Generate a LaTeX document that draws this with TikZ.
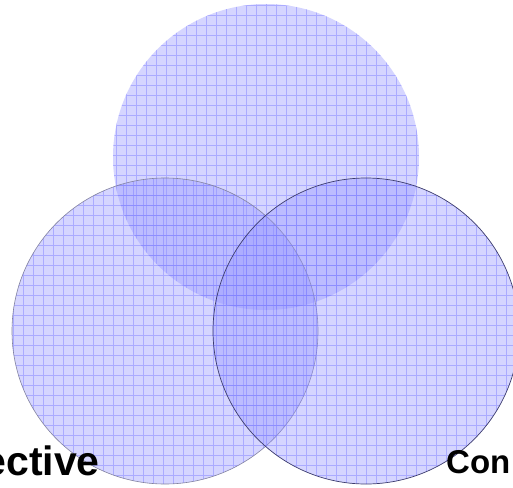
\documentclass[tikz,border=0pt]{standalone}
\usepackage{fontspec}
\setmainfont{Liberation Sans}
\definecolor{vennblue}{RGB}{150,150,255}
\definecolor{gridblue}{RGB}{120,120,255}
\definecolor{rimgray}{RGB}{130,130,160}
\definecolor{rimnavy}{RGB}{60,60,110}

\begin{document}
\begin{tikzpicture}[x=1pt,y=-1pt,
  venn/.style={fill=vennblue,fill opacity=0.40},
  gridline/.style={draw=gridblue,draw opacity=0.45,line width=0.7pt},
  bigword/.style={font=\bfseries\fontsize{41}{41}\selectfont,inner sep=0pt},
  smallword/.style={font=\bfseries\fontsize{33}{33}\selectfont,inner sep=0pt}
]
\useasboundingbox (0,0) rectangle (513,487);
\coordinate (topc) at (266,157);
\coordinate (leftc) at (165,331);
\coordinate (rightc) at (366,331);

% top circle
\fill[venn] (topc) circle[radius=153];
\begin{scope}
  \clip (topc) circle[radius=153];
  \draw[gridline,shift={(6,5)}] (-10,-10) grid[step=10pt] (520,500);
\end{scope}

% left circle
\fill[venn] (leftc) circle[radius=153];
\begin{scope}
  \clip (leftc) circle[radius=153];
  \draw[gridline,shift={(3,5)}] (-10,-10) grid[step=10pt] (520,500);
\end{scope}
\draw[rimgray,line width=0.6pt] (leftc) circle[radius=153];

% right circle
\fill[venn] (rightc) circle[radius=153];
\begin{scope}
  \clip (rightc) circle[radius=153];
  \draw[gridline,shift={(6,5)}] (-10,-10) grid[step=10pt] (520,500);
\end{scope}
\draw[rimnavy,line width=0.7pt] (rightc) circle[radius=153];

\node[bigword,anchor=base east] (persp) at (100,475) {ective};
\node[smallword,anchor=base west] (cont) at (446,473) {Con};
\end{tikzpicture}
\end{document}
